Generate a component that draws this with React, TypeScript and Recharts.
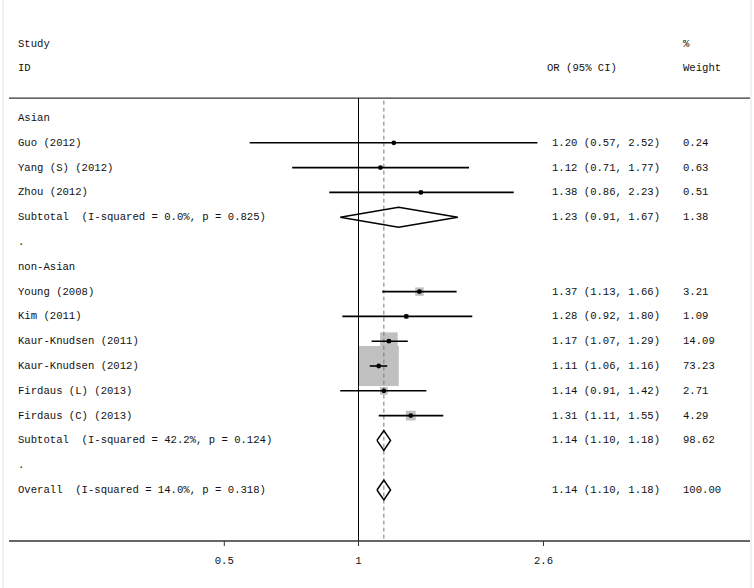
import React from 'react'
import { ComposedChart, Line, XAxis, YAxis, ReferenceLine } from 'recharts'

// studies
const studyNames = [
    'Guo (2012)',
    'Yang (S) (2012)',
    'Zhou (2012)',
    'Young (2008)',
    'Kim (2011)',
    'Kaur-Knudsen (2011)',
    'Kaur-Knudsen (2012)',
    'Firdaus (L) (2013)',
    'Firdaus (C) (2013)',
]
const studyRows = [1, 2, 3, 7, 8, 9, 10, 11, 12]
const studyOR = [1.2, 1.12, 1.38, 1.37, 1.28, 1.17, 1.11, 1.14, 1.31]
const studyLow = [0.57, 0.71, 0.86, 1.13, 0.92, 1.07, 1.06, 0.91, 1.11]
const studyHigh = [2.52, 1.77, 2.23, 1.66, 1.8, 1.29, 1.16, 1.42, 1.55]
const studyWeight = [0.24, 0.63, 0.51, 3.21, 1.09, 14.09, 73.23, 2.71, 4.29]

// pooled estimates
const pooledNames = [
    'Subtotal  (I-squared = 0.0%, p = 0.825)',
    'Subtotal  (I-squared = 42.2%, p = 0.124)',
    'Overall  (I-squared = 14.0%, p = 0.318)',
]
const pooledRows = [4, 13, 15]
const pooledOR = [1.23, 1.14, 1.14]
const pooledLow = [0.91, 1.1, 1.1]
const pooledHigh = [1.67, 1.18, 1.18]
const pooledWeight = [1.38, 98.62, 100.0]

const groupNames = ['Asian', 'non-Asian']
const groupRows = [0, 6]
const spacerRows = [5, 14]

const xTicks = [0.5, 1, 2.6]
const overallOR = 1.14

// layout
const W = 754
const H = 588
const PLOT_LEFT = 9
const PLOT_RIGHT = 750
const PLOT_BOTTOM = 541
const ROW0 = 118
const ROWH = 24.8
const X_ONE = 358.5
const PX_PER_LN = 193.6
const BOX_K = 4.7
const FONT = '"Liberation Mono", "DejaVu Sans Mono", monospace'
const FS = 10.6

const xDomain = [Math.exp((PLOT_LEFT - X_ONE) / PX_PER_LN), Math.exp((PLOT_RIGHT - X_ONE) / PX_PER_LN)]
const yMin = -ROW0 / ROWH
const yDomain = [yMin, yMin + PLOT_BOTTOM / ROWH]
const rowY = (r: number) => ROW0 + r * ROWH

const pointData = studyOR.map((v, i) => ({ x: v, y: studyRows[i] }))
const fmt = (v: number) => v.toFixed(2)

const PointDot = (props: any) => {
    const { cx, cy, index } = props
    if (cx == null || cy == null) return <g key={'p' + index} />
    return <circle key={'p' + index} cx={cx} cy={cy} r={2.4} fill='#000' />
}

const TextCell = ({ x, row, children }: { x: number; row: number; children: React.ReactNode }) => (
    <text x={x} y={rowY(row)} dominantBaseline='central' fontFamily={FONT} fontSize={FS} fill='#111' style={{ whiteSpace: 'pre' }}>
        {children}
    </text>
)

const App: React.FC = () => {
    return (
        <div style={{ position: 'absolute', left: 0, top: 0, width: W, height: H, background: '#fff' }}>
            <ComposedChart width={W} height={H} margin={{ top: 0, right: W - PLOT_RIGHT, left: PLOT_LEFT, bottom: 0 }}>
                <XAxis
                    type='number'
                    dataKey='x'
                    scale='log'
                    domain={xDomain}
                    allowDataOverflow
                    ticks={xTicks}
                    tickFormatter={(v: number) => String(v)}
                    height={H - PLOT_BOTTOM}
                    axisLine={{ stroke: '#333', strokeWidth: 1.3 }}
                    tickLine={{ stroke: '#333' }}
                    tickSize={5}
                    tickMargin={10}
                    tick={{ fontFamily: FONT, fontSize: FS, fill: '#111' }}
                />
                <YAxis type='number' dataKey='y' domain={yDomain} allowDataOverflow reversed hide />
                <ReferenceLine y={-0.8} stroke='#333' strokeWidth={1.3} ifOverflow='visible' />
                {/* weight boxes: a vertical stroke as wide as it is tall */}
                {studyOR.map((v, i) => {
                    const s = BOX_K * Math.sqrt(studyWeight[i])
                    const hs = s / 2 / ROWH
                    return (
                        <Line
                            key={'box' + i}
                            data={[
                                { x: v, y: studyRows[i] - hs },
                                { x: v, y: studyRows[i] + hs },
                            ]}
                            dataKey='y'
                            type='linear'
                            stroke='#c0c0c0'
                            strokeWidth={s}
                            strokeLinecap='butt'
                            dot={false}
                            activeDot={false}
                            isAnimationActive={false}
                        />
                    )
                })}
                <ReferenceLine
                    segment={[{ x: 1, y: -0.8 }, { x: 1, y: yDomain[1] }]}
                    stroke='#000'
                    strokeWidth={1}
                    ifOverflow='visible'
                />
                <ReferenceLine
                    segment={[{ x: overallOR, y: -0.7 }, { x: overallOR, y: yDomain[1] }]}
                    stroke='#777'
                    strokeWidth={1}
                    strokeDasharray='4 3'
                    ifOverflow='visible'
                />
                {studyOR.map((_, i) => (
                    <Line
                        key={'ci' + i}
                        data={[
                            { x: studyLow[i], y: studyRows[i] },
                            { x: studyHigh[i], y: studyRows[i] },
                        ]}
                        dataKey='y'
                        type='linear'
                        stroke='#000'
                        strokeWidth={1.6}
                        dot={false}
                        activeDot={false}
                        isAnimationActive={false}
                    />
                ))}
                <Line
                    data={pointData}
                    dataKey='y'
                    stroke='none'
                    dot={PointDot}
                    activeDot={false}
                    isAnimationActive={false}
                />
                {pooledOR.map((v, i) => (
                    <Line
                        key={'dm' + i}
                        data={[
                            { x: pooledLow[i], y: pooledRows[i] },
                            { x: v, y: pooledRows[i] - 0.4 },
                            { x: pooledHigh[i], y: pooledRows[i] },
                            { x: v, y: pooledRows[i] + 0.4 },
                            { x: pooledLow[i], y: pooledRows[i] },
                        ]}
                        dataKey='y'
                        type='linear'
                        stroke='#000'
                        strokeWidth={1.5}
                        fill='none'
                        dot={false}
                        activeDot={false}
                        isAnimationActive={false}
                    />
                ))}
            </ComposedChart>
            <svg width={W} height={H} style={{ position: 'absolute', left: 0, top: 0, pointerEvents: 'none' }}>
                <line x1={3} y1={0} x2={3} y2={H} stroke='#e2e2e2' />
                <line x1={751} y1={0} x2={751} y2={H} stroke='#e2e2e2' />
                <TextCell x={18} row={-3}>Study</TextCell>
                <TextCell x={683} row={-3}>%</TextCell>
                <TextCell x={18} row={-2}>ID</TextCell>
                <TextCell x={547} row={-2}>OR (95% CI)</TextCell>
                <TextCell x={683} row={-2}>Weight</TextCell>
                {groupNames.map((g, i) => (
                    <TextCell key={'g' + i} x={18} row={groupRows[i]}>{g}</TextCell>
                ))}
                {spacerRows.map((r, i) => (
                    <TextCell key={'s' + i} x={18} row={r}>.</TextCell>
                ))}
                {studyNames.map((n, i) => (
                    <React.Fragment key={'st' + i}>
                        <TextCell x={18} row={studyRows[i]}>{n}</TextCell>
                        <TextCell x={552} row={studyRows[i]}>
                            {`${fmt(studyOR[i])} (${fmt(studyLow[i])}, ${fmt(studyHigh[i])})`}
                        </TextCell>
                        <TextCell x={683} row={studyRows[i]}>{fmt(studyWeight[i])}</TextCell>
                    </React.Fragment>
                ))}
                {pooledNames.map((n, i) => (
                    <React.Fragment key={'po' + i}>
                        <TextCell x={18} row={pooledRows[i]}>{n}</TextCell>
                        <TextCell x={552} row={pooledRows[i]}>
                            {`${fmt(pooledOR[i])} (${fmt(pooledLow[i])}, ${fmt(pooledHigh[i])})`}
                        </TextCell>
                        <TextCell x={683} row={pooledRows[i]}>{fmt(pooledWeight[i])}</TextCell>
                    </React.Fragment>
                ))}
            </svg>
        </div>
    )
}

export default App
